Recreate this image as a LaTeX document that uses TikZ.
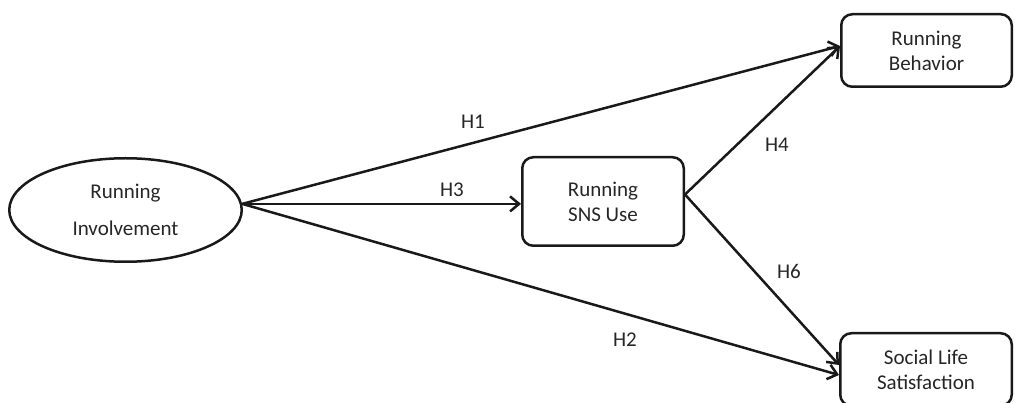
\documentclass[tikz,border=0pt]{standalone}
\usepackage{fontspec}
\setmainfont{Carlito}
\usetikzlibrary{shapes.geometric,arrows.meta}
\tikzset{
  every node/.style={font=\fontsize{21}{25}\selectfont, text=black!85},
  box/.style={draw=black!90, line width=2.5pt, rounded corners=11pt, inner sep=0pt, align=center},
  ell/.style={draw=black!90, line width=2.5pt, ellipse, inner sep=0pt, align=center},
  conn/.style={draw=black!90, line width=2.5pt, -{Straight Barb[length=9pt,width=15pt,line width=2.5pt]}},
  lab/.style={inner sep=0pt}
}
\begin{document}
\begin{tikzpicture}[x=1pt,y=-1pt]
\useasboundingbox (0,0) rectangle (1015,403);
\clip (0,0) rectangle (1015,403);
\node[ell, minimum width=232.5pt, minimum height=103.5pt] (inv) at (125.5,210) {Running\\[12pt]Involvement};
\node[box, minimum width=161.5pt, minimum height=88.5pt] (sns) at (603,201.5) {Running\\SNS Use};
\node[box, minimum width=170.5pt, minimum height=72.5pt] (beh) at (926.5,50.5) {Running\\Behavior};
\node[box, minimum width=171.5pt, minimum height=72.5pt] (sat) at (926,369.5) {Social Life\\Satisfaction};
\coordinate (o) at (inv.3.5);
\draw[conn] (o) -- ([yshift=4.5pt]beh.west);
\draw[conn] (o) -- (o -| sns.west);
\draw[conn] (o) -- ([yshift=-5.5pt]sat.west);
\draw[conn] ([yshift=7pt]sns.east) -- ([yshift=4.5pt]beh.west);
\draw[conn] ([yshift=7pt]sns.east) -- ([yshift=4.5pt]sat.west);
\node[lab] (h1) at (473,122) {H1};
\node[lab] (h3) at (452,190) {H3};
\node[lab] (h4) at (777,145) {H4};
\node[lab] (h6) at (789,271) {H6};
\node[lab] (h2) at (625,340) {H2};
\end{tikzpicture}
\end{document}
